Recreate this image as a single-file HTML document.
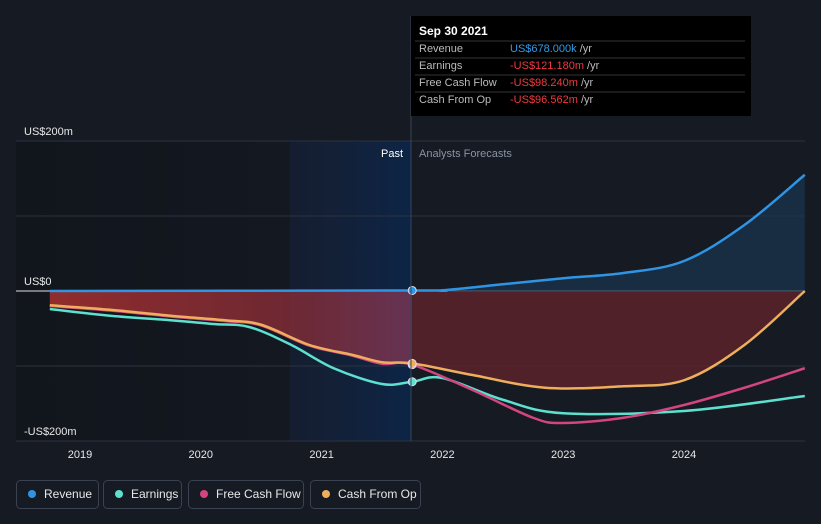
<!DOCTYPE html>
<html><head><meta charset="utf-8"><style>
body{margin:0;background:#151a23;font-family:"Liberation Sans",sans-serif;}
svg{display:block}
</style></head><body>
<svg id="c" width="821" height="524">
<defs>
<linearGradient id="pastbg" x1="0" x2="1"><stop offset="0" stop-color="#11151c"/><stop offset="1" stop-color="#151a23"/></linearGradient>
<linearGradient id="hl" x1="0" x2="1"><stop offset="0" stop-color="#16213a" stop-opacity="0.6"/><stop offset="1" stop-color="#0c2546"/></linearGradient>
<linearGradient id="redpast" x1="0" x2="1"><stop offset="0" stop-color="#a8302f" stop-opacity="0.85"/><stop offset="0.7" stop-color="#8a2d38" stop-opacity="0.75"/><stop offset="1" stop-color="#a03c5a" stop-opacity="0.6"/></linearGradient>
</defs>
<rect x="16" y="141" width="395" height="300" fill="url(#pastbg)"/>
<rect x="290" y="141" width="121" height="300" fill="url(#hl)"/>
<g id="grid"></g>
<g id="marks"></g>
<line x1="411" y1="16" x2="411" y2="441" stroke="#3a4456" stroke-width="1"/>
<text x="403" y="157" fill="#ffffff" font-size="11" text-anchor="end">Past</text>
<text x="419" y="157" fill="#8a93a3" font-size="11">Analysts Forecasts</text>
<g id="xaxis"></g>
<g>
<rect x="411" y="16" width="340" height="100" fill="#000"/>
<text x="419" y="35" fill="#fff" font-size="12" font-weight="bold">Sep 30 2021</text>
<line x1="415" y1="41" x2="745" y2="41" stroke="#333"/>
<text x="419" y="52" fill="#bbb" font-size="11">Revenue</text><text x="510" y="52" fill="#2f9be8" font-size="11">US$678.000k <tspan fill="#bbb">/yr</tspan></text>
<line x1="415" y1="58" x2="745" y2="58" stroke="#333"/>
<text x="419" y="69" fill="#bbb" font-size="11">Earnings</text><text x="510" y="69" fill="#f0393f" font-size="11">-US$121.180m <tspan fill="#bbb">/yr</tspan></text>
<line x1="415" y1="75" x2="745" y2="75" stroke="#333"/>
<text x="419" y="86" fill="#bbb" font-size="11">Free Cash Flow</text><text x="510" y="86" fill="#f0393f" font-size="11">-US$98.240m <tspan fill="#bbb">/yr</tspan></text>
<line x1="415" y1="92" x2="745" y2="92" stroke="#333"/>
<text x="419" y="103" fill="#bbb" font-size="11">Cash From Op</text><text x="510" y="103" fill="#f0393f" font-size="11">-US$96.562m <tspan fill="#bbb">/yr</tspan></text>
</g>
<g id="legend"></g>
</svg>
<script>
const yTicks=[200,0,-200];
const yTickLabels=["US$200m","US$0","-US$200m"];
const xTicks=[2019,2020,2021,2022,2023,2024];
const revT=[2018.75,2021.75,2022,2022.5,2023,2023.5,2024,2024.5,2025];
const revV=[0,0.678,1,9,17,24,40,88,155];
const earnT=[2018.75,2019.25,2019.75,2020.1,2020.4,2020.75,2021.1,2021.5,2021.75,2022,2022.5,2023,2024,2025];
const earnV=[-24,-33,-39,-44,-48,-72,-103,-124,-121,-116,-145,-163,-160,-140];
const cfoT=[2018.75,2019.25,2019.75,2020.2,2020.5,2020.9,2021.25,2021.5,2021.75,2022.25,2022.85,2023.5,2024,2024.5,2025];
const cfoV=[-19,-25,-33,-39,-45,-72,-85,-95,-96.5,-112,-129,-127,-119,-72,0];
const fcfT=[2018.75,2019.25,2019.75,2020.2,2020.5,2020.9,2021.25,2021.5,2021.75,2022.25,2022.75,2023,2023.5,2024,2024.5,2025];
const fcfV=[-20,-26,-34,-40,-46,-73,-86,-97,-98.2,-132,-169,-176,-169,-152,-129,-103];
const NOW=2021.75;
const X=t=>80+(t-2019)*120.8;
const Y=v=>291-v*0.75;
const NS="http://www.w3.org/2000/svg";
function mk(tag,attrs,parent){const e=document.createElementNS(NS,tag);for(const k in attrs)e.setAttribute(k,attrs[k]);parent.appendChild(e);return e;}
function pts(T,V,from,to){const p=[];T.forEach((t,i)=>{if(t>=from-1e-9&&t<=to+1e-9)p.push([X(t),Y(V[i])]);});return p;}
function smooth(p){let d="M"+p[0][0]+","+p[0][1];for(let i=0;i<p.length-1;i++){const p0=p[i-1]||p[i],p1=p[i],p2=p[i+1],p3=p[i+2]||p2;const c1x=p1[0]+(p2[0]-p0[0])/6,c1y=p1[1]+(p2[1]-p0[1])/6,c2x=p2[0]-(p3[0]-p1[0])/6,c2y=p2[1]-(p3[1]-p1[1])/6;d+=`C${c1x},${c1y},${c2x},${c2y},${p2[0]},${p2[1]}`;}return d;}
const grid=document.getElementById('grid');
[200,100,0,-100,-200].forEach(v=>{const l=mk('line',{x1:16,x2:805,y1:Y(v),y2:Y(v),stroke:v===0?'#e0e0e0':'#2c3340','stroke-width':1},grid);

});
yTicks.forEach((v,i)=>{const t=mk('text',{x:24,y:Y(v)-6,fill:'#e8e8e8','font-size':11},grid);t.textContent=yTickLabels[i];

});
const xa=document.getElementById('xaxis');
xTicks.forEach(y=>{const t=mk('text',{x:X(y),y:458,fill:'#e8e8e8','font-size':11,'text-anchor':'middle'},xa);t.textContent=y;

});
const m=document.getElementById('marks');
// fills
const cp=pts(cfoT,cfoV,2018.75,NOW),cf=pts(cfoT,cfoV,NOW,2025);
let a=mk('path',{d:smooth(cp)+`L${X(NOW)},${Y(0)}L${X(2018.75)},${Y(0)}Z`,fill:'url(#redpast)'},m);


a=mk('path',{d:smooth(cf)+`L${X(2025)},${Y(0)}L${X(NOW)},${Y(0)}Z`,fill:'#5a2329',opacity:0.85},m);


const rf=pts(revT,revV,NOW,2025);
a=mk('path',{d:smooth(rf)+`L${X(2025)},${Y(0)}L${X(NOW)},${Y(0)}Z`,fill:'#1a3550',opacity:0.7},m);


const series=[["earnings",earnT,earnV,'#5ee0cf'],["free-cash-flow",fcfT,fcfV,'#d2457f'],["cash-from-op",cfoT,cfoV,'#eeae5c'],["revenue",revT,revV,'#2f94e3']];
series.forEach(([n,T,V,c])=>{const p=mk('path',{d:smooth(pts(T,V,2018.75,2025)),fill:'none',stroke:c,'stroke-width':2.5},m);

});
function valAt(T,V,t){for(let i=0;i<T.length;i++)if(Math.abs(T[i]-t)<1e-9)return V[i];return 0;}
series.forEach(([n,T,V,c])=>{const d=mk('circle',{cx:X(NOW),cy:Y(valAt(T,V,NOW)),r:4,fill:c,stroke:'#dde',"stroke-width":1},m);

});
const lg=document.getElementById('legend');
const items=[["Revenue",'#2f94e3',16,82],["Earnings",'#5ee0cf',103,78],["Free Cash Flow",'#d2457f',188,115],["Cash From Op",'#eeae5c',310,110]];
items.forEach(([lab,c,x,w])=>{const g=mk('g',{},lg);


mk('rect',{x:x+0.5,y:480.5,width:w,height:28,rx:4,fill:'none',stroke:'#3a4150'},g);
mk('circle',{cx:x+16,cy:494,r:4,fill:c},g);
const t=mk('text',{x:x+28,y:498,fill:'#e8e8e8','font-size':12},g);t.textContent=lab;});
</script>
</body></html>
